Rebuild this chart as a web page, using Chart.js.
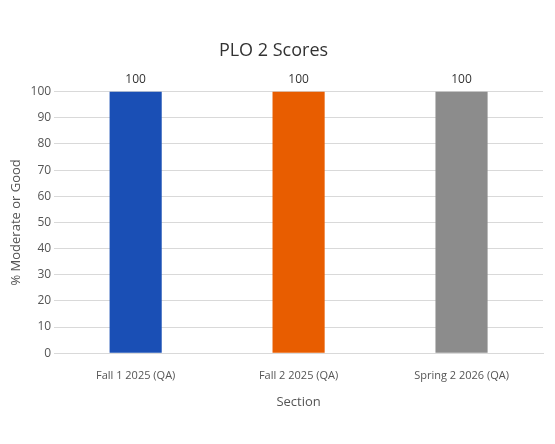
<!DOCTYPE html>
<html>
<head>
<meta charset="utf-8">
<script src="https://cdn.jsdelivr.net/npm/chart.js@4"></script>
<style>
  html, body { margin: 0; padding: 0; background: #fff; }
  #wrap { width: 555px; height: 444px; }
</style>
</head>
<body>
<div id="wrap"><canvas id="chart"></canvas></div>
<script>
// Datos del gráfico
const sections = ['Fall 1 2025 (QA)', 'Fall 2 2025 (QA)', 'Spring 2 2026 (QA)'];
const scores = [100, 100, 100];
const barColors = ['#1a4fb5', '#e85d00', '#8c8c8c'];

// Etiquetas de valor encima de cada barra
const valueLabels = {
    id: 'valueLabels',
    afterDatasetsDraw(chart) {
        const ctx = chart.ctx;
        const meta = chart.getDatasetMeta(0);
        ctx.save();
        ctx.font = '12px "Open Sans", sans-serif';
        ctx.fillStyle = '#333';
        ctx.textAlign = 'center';
        ctx.textBaseline = 'bottom';
        meta.data.forEach((bar, i) => {
            ctx.fillText(String(scores[i]), bar.x, bar.y - 6);
        });
        ctx.restore();
    }
};

Chart.defaults.font.family = '"Open Sans", sans-serif';
Chart.defaults.color = '#555';

new Chart(document.getElementById('chart').getContext('2d'), {
    type: 'bar',
    data: {
        labels: sections,
        datasets: [{
            data: scores,
            backgroundColor: barColors,
            categoryPercentage: 1,
            barPercentage: 0.32
        }]
    },
    options: {
        responsive: true,
        maintainAspectRatio: false,
        animation: false,
        layout: { padding: { top: 40, left: 4, right: 12, bottom: 30 } },
        plugins: {
            legend: { display: false },
            tooltip: { enabled: false },
            title: {
                display: true,
                text: 'PLO 2 Scores',
                font: { size: 18, weight: 'normal' },
                color: '#333',
                padding: { top: 0, bottom: 30 }
            }
        },
        scales: {
            y: {
                min: 0,
                max: 100,
                ticks: { stepSize: 10, font: { size: 12 }, color: '#555' },
                grid: { color: '#d9d9d9', drawTicks: false },
                border: { display: false },
                title: { display: true, text: '% Moderate or Good', font: { size: 13 }, color: '#555' }
            },
            x: {
                ticks: { font: { size: 11 }, color: '#555', padding: 8 },
                grid: { display: false },
                border: { color: '#d9d9d9' },
                title: { display: true, text: 'Section', font: { size: 13 }, color: '#555' }
            }
        }
    },
    plugins: [valueLabels]
});
</script>
</body>
</html>
